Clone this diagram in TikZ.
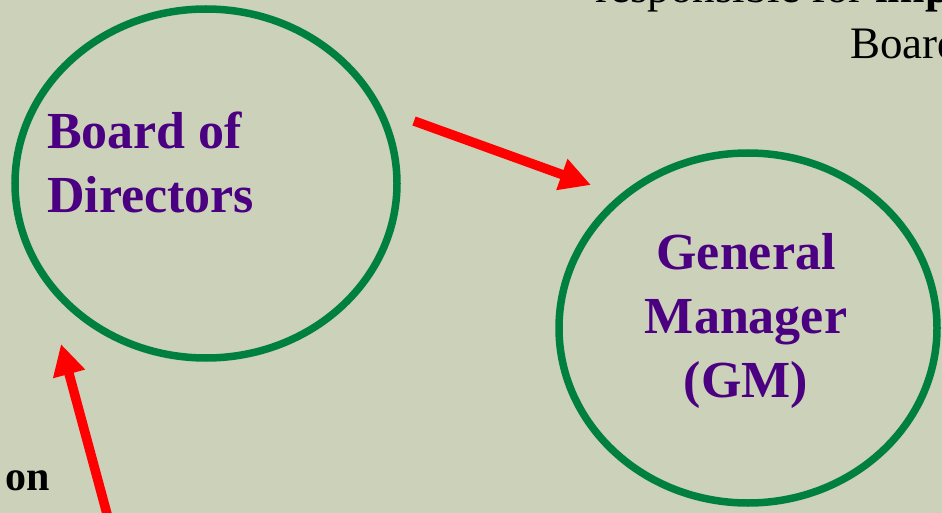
\documentclass[tikz,border=0pt]{standalone}
\usepackage{fontspec}
\setmainfont{Liberation Serif}
\usetikzlibrary{arrows.meta,shapes.geometric}
\definecolor{paper}{RGB}{204,209,185}
\definecolor{ringgreen}{RGB}{0,128,64}
\definecolor{labelpurple}{RGB}{75,0,130}
\definecolor{arrowred}{RGB}{255,0,0}
\begin{document}
\begin{tikzpicture}[x=1pt,y=-1pt,
  ring/.style={ellipse, draw=ringgreen, line width=7.5pt, inner sep=0pt},
  rolelabel/.style={text=labelpurple, font=\fontsize{52}{64}\selectfont\bfseries, inner sep=0pt},
  bodytext/.style={text=black, font=\fontsize{45}{56}\selectfont, inner sep=0pt},
  flow/.style={draw=arrowred, line width=9.5pt, -{Triangle[length=31pt,width=31pt]}}]
  % canvas
  \useasboundingbox (0,0) rectangle (942,513);
  \clip (0,0) rectangle (942,513);
  \fill[paper] (0,0) rectangle (942,513);

  % the two roles
  \node[ring, minimum width=382pt, minimum height=349pt] (bd) at (206,183.5) {};
  \node[ring, minimum width=378pt, minimum height=350pt] (gm) at (748,328) {};

  % multi-line labels: the base anchor sits on the last line
  \node[rolelabel, anchor=base west, align=left] (bdtext) at (47,212) {Board of\\Directors};
  \node[rolelabel, anchor=base, align=center] (gmtext) at (746,397) {General\\Manager\\(GM)};

  % surrounding text
  \node[bodytext, anchor=base west] (topline) at (595,3) {responsible for \textbf{imp}};
  \node[bodytext, anchor=base west] (boardword) at (850,59) {Board};
  \node[bodytext, anchor=base west, font=\fontsize{42}{50}\selectfont\bfseries] (onword) at (5,490) {on};

  % arrows
  \coordinate (a1s) at (414,121);
  \coordinate (a1e) at (591,185);
  \coordinate (a2s) at (110,525);
  \coordinate (a2e) at (61,344);
  \draw[flow] (a1s) -- (a1e);
  \draw[flow] (a2s) -- (a2e);
\end{tikzpicture}
\end{document}
